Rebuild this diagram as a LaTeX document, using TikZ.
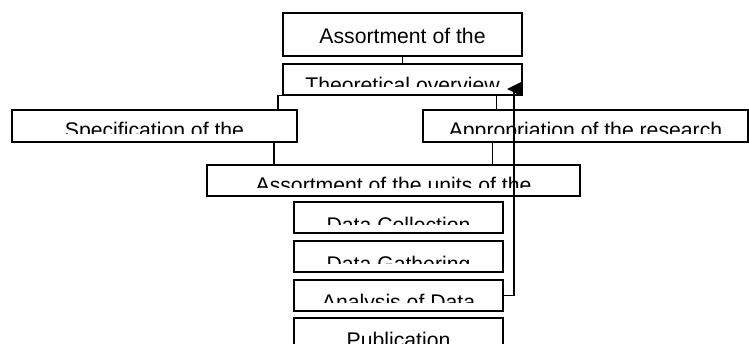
\documentclass[tikz,border=0pt]{standalone}
\usepackage{fontspec}
\setmainfont{Liberation Sans}
\usetikzlibrary{arrows.meta,calc}
\tikzset{
  box/.style={draw, fill=white, line width=1.5pt, inner sep=0pt, rectangle},
  lbl/.style={anchor=base, inner sep=0pt, font=\fontsize{21.2}{25}\selectfont},
  conn/.style={line width=1.5pt},
}
\newcommand\boxtext[4]{%
  \begin{scope}
    \clip ([yshift=-0.8pt]#1.north west) rectangle ([yshift=9.5pt]#1.south east);
    \node[lbl] (#2) at ([yshift=-#4pt]#1.north) {#3};
  \end{scope}}
\begin{document}
\begin{tikzpicture}[x=1pt,y=-1pt]
\clip (0,0) rectangle (749,344);
\fill[white] (0,0) rectangle (749,344);
% boxes
\node[box, minimum width=239pt, minimum height=43pt] (b1) at (402.5,34.5) {};
\node[lbl] (b1t) at (402.5,43.3) {Assortment of the};
\node[box, minimum width=239pt, minimum height=31pt] (b2) at (402.5,79.5) {};
\boxtext{b2}{b2t}{Theoretical overview}{29}
\node[box, minimum width=285pt, minimum height=32pt] (spec) at (154.5,126) {};
\boxtext{spec}{spect}{Specification of the}{28.5}
\node[box, minimum width=325pt, minimum height=32pt] (appr) at (585.5,126) {};
\boxtext{appr}{apprt}{Appropriation of the research}{28.5}
\node[box, minimum width=373pt, minimum height=31pt] (units) at (393.5,180.5) {};
\boxtext{units}{unitst}{Assortment of the units of the}{28.5}
\node[box, minimum width=209pt, minimum height=31pt] (dc) at (398.5,217.5) {};
\boxtext{dc}{dct}{Data Collection}{31}
\node[box, minimum width=209pt, minimum height=31pt] (dg) at (398.5,256.5) {};
\boxtext{dg}{dgt}{Data Gathering}{31}
\node[box, minimum width=209pt, minimum height=31pt] (an) at (398.5,295.5) {};
\boxtext{an}{ant}{Analysis of Data}{30}
\node[box, minimum width=209pt, minimum height=42pt] (pub) at (398.5,339) {};
\boxtext{pub}{pubt}{Publication}{30}
% connectors
\draw[conn] (b1.south) -- (b2.north);
\draw[conn] (b2.south) -| ([xshift=-20pt]spec.north east);
\draw[conn] (b2.south) -| ([xshift=74pt]appr.north west);
\draw[conn] ([xshift=-24pt]spec.south east) -- ([xshift=-24pt]spec.south east |- units.north);
\draw[conn] ([xshift=70pt]appr.south west) -- ([xshift=70pt]appr.south west |- units.north);
% feedback arrow
\coordinate (turn) at (514,89);
\coordinate (tip) at (507,89);
\draw[conn] (an.east) -| (turn);
\fill (tip) -- ++(14,-7) -- ++(0,14) -- cycle;
\end{tikzpicture}
\end{document}
